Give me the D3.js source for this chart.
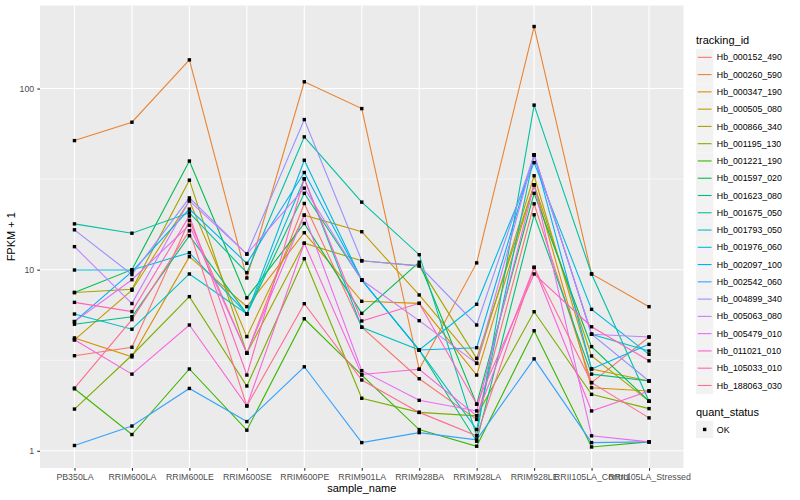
<!DOCTYPE html>
<html>
<head>
<meta charset="utf-8">
<script src="https://cdn.jsdelivr.net/npm/d3@7"></script>
<style>
  body { margin: 0; background: #fff; }
  text { font-family: 'Liberation Sans', Arial, sans-serif; }
</style>
</head>
<body>
<svg id="chart"></svg>
<script>
const samples = ['PB350LA', 'RRIM600LA', 'RRIM600LE', 'RRIM600SE', 'RRIM600PE', 'RRIM901LA',
  'RRIM928BA', 'RRIM928LA', 'RRIM928LE', 'RRII105LA_Control', 'RRII105LA_Stressed'];

const trackingIds = ['Hb_000152_490', 'Hb_000260_590', 'Hb_000347_190', 'Hb_000505_080',
  'Hb_000866_340', 'Hb_001195_130', 'Hb_001221_190', 'Hb_001597_020', 'Hb_001623_080',
  'Hb_001675_050', 'Hb_001793_050', 'Hb_001976_060', 'Hb_002097_100', 'Hb_002542_060',
  'Hb_004899_340', 'Hb_005063_080', 'Hb_005479_010', 'Hb_011021_010', 'Hb_105033_010',
  'Hb_188063_030'];

// FPKM + 1, one value per sample
const hb_000152_490 = [3.35, 3.73, 18.7, 3.46, 23.2, 4.81, 2.5, 1.49, 23.1, 2.38, 4.25];
const hb_000260_590 = [51.6, 65.2, 144, 9.0, 109, 77.5, 2.82, 10.9, 220, 9.47, 6.25];
const hb_000347_190 = [4.2, 3.3, 11.8, 6.25, 16.0, 6.69, 6.52, 2.62, 29.4, 2.23, 2.14];
const hb_000505_080 = [4.1, 7.7, 24.0, 4.27, 20.0, 16.2, 7.25, 3.04, 33.0, 2.83, 2.43];
const hb_000866_340 = [7.48, 7.8, 31.2, 3.46, 14.0, 11.2, 10.5, 3.24, 29.4, 3.34, 1.88];
const hb_001195_130 = [1.7, 3.37, 7.1, 2.28, 11.5, 1.95, 1.63, 1.56, 5.86, 2.05, 1.71];
const hb_001221_190 = [2.2, 1.23, 2.83, 1.3, 5.36, 2.62, 1.31, 1.06, 4.6, 1.05, 1.12];
const hb_001597_020 = [7.48, 10.0, 39.8, 6.99, 18.0, 5.74, 11.0, 1.81, 26.4, 3.76, 1.88];
const hb_001623_080 = [5.0, 5.5, 15.4, 5.7, 26.4, 8.77, 3.6, 1.13, 20.1, 2.65, 2.43];
const hb_001675_050 = [17.9, 15.9, 20.6, 9.63, 54.1, 23.6, 12.1, 1.21, 81.0, 9.47, 1.88];
const hb_001793_050 = [5.69, 4.69, 9.47, 5.7, 31.7, 4.81, 3.6, 1.31, 43.0, 4.4, 3.56];
const hb_001976_060 = [9.96, 9.96, 12.4, 5.7, 40.2, 8.77, 3.6, 6.44, 39.0, 6.04, 3.41];
const hb_002097_100 = [5.17, 9.75, 21.6, 10.84, 34.4, 8.77, 3.6, 3.71, 43.0, 2.83, 3.87];
const hb_002542_060 = [1.07, 1.37, 2.21, 1.45, 2.91, 1.11, 1.26, 1.15, 3.22, 1.11, 1.12];
const hb_004899_340 = [16.6, 9.4, 24.9, 12.2, 67.4, 11.2, 10.5, 4.95, 43.0, 4.4, 2.43];
const hb_005063_080 = [13.4, 6.5, 24.0, 12.2, 28.2, 8.77, 5.23, 3.04, 43.0, 4.4, 4.25];
const hb_005479_010 = [5.17, 8.8, 17.6, 3.46, 20.0, 2.77, 1.9, 1.66, 29.4, 1.21, 1.12];
const hb_011021_010 = [4.1, 2.65, 4.95, 1.77, 14.0, 2.64, 2.82, 1.56, 10.3, 1.66, 2.14];
const hb_105033_010 = [6.6, 5.87, 19.8, 2.62, 31.7, 5.21, 6.52, 1.81, 9.47, 4.84, 3.14];
const hb_188063_030 = [2.22, 5.3, 16.4, 1.77, 6.49, 2.46, 1.63, 1.21, 10.3, 2.38, 1.52];

const yTicks = [1, 10, 100];
const yMinor = [Math.sqrt(10), Math.sqrt(1000)];

const seriesValues = [hb_000152_490, hb_000260_590, hb_000347_190, hb_000505_080, hb_000866_340,
  hb_001195_130, hb_001221_190, hb_001597_020, hb_001623_080, hb_001675_050, hb_001793_050,
  hb_001976_060, hb_002097_100, hb_002542_060, hb_004899_340, hb_005063_080, hb_005479_010,
  hb_011021_010, hb_105033_010, hb_188063_030];

// ggplot default hue palette for 20 groups
const colors = ['#F8766D', '#EA8331', '#D89000', '#C09B00', '#A3A500', '#7CAE00', '#39B600',
  '#00BB4E', '#00BF7D', '#00C1A3', '#00BFC4', '#00BAE0', '#00B0F6', '#35A2FF', '#9590FF',
  '#C77CFF', '#E76BF3', '#FA62DB', '#FF62BC', '#FF6C91'];

const width = 800;
const height = 500;
const panel = { left: 40, right: 683.5, top: 5.5, bottom: 468 };

const series = trackingIds.map((id, i) => ({
  id: id,
  color: colors[i],
  values: seriesValues[i].map((v, j) => ({ sample: samples[j], value: v })),
}));

const svg = d3.select('#chart').attr('width', width).attr('height', height);

let xScale;
let yScale;

const generateScales = () => {
  xScale = d3.scalePoint().domain(samples).range([panel.left, panel.right]).padding(0.6);
  const all = seriesValues.flat();
  const lo = Math.log10(d3.min(all));
  const hi = Math.log10(d3.max(all));
  const pad = (hi - lo) * 0.05;
  yScale = d3.scaleLog()
    .domain([Math.pow(10, lo - pad), Math.pow(10, hi + pad)])
    .range([panel.bottom, panel.top]);
};

const drawPanel = () => {
  svg.append('rect')
    .attr('x', panel.left).attr('y', panel.top)
    .attr('width', panel.right - panel.left).attr('height', panel.bottom - panel.top)
    .attr('fill', '#EBEBEB');

  svg.selectAll('.minor').data(yMinor).enter().append('line')
    .attr('x1', panel.left).attr('x2', panel.right)
    .attr('y1', (d) => yScale(d)).attr('y2', (d) => yScale(d))
    .attr('stroke', '#fff').attr('stroke-width', 0.55);

  svg.selectAll('.hgrid').data(yTicks).enter().append('line')
    .attr('x1', panel.left).attr('x2', panel.right)
    .attr('y1', (d) => yScale(d)).attr('y2', (d) => yScale(d))
    .attr('stroke', '#fff').attr('stroke-width', 1.1);

  svg.selectAll('.vgrid').data(samples).enter().append('line')
    .attr('x1', (d) => xScale(d)).attr('x2', (d) => xScale(d))
    .attr('y1', panel.top).attr('y2', panel.bottom)
    .attr('stroke', '#fff').attr('stroke-width', 1.1);
};

const drawLines = () => {
  const line = d3.line()
    .x((d) => xScale(d.sample))
    .y((d) => yScale(d.value));

  svg.selectAll('.series').data(series).enter().append('path')
    .attr('d', (s) => line(s.values))
    .attr('fill', 'none')
    .attr('stroke', (s) => s.color)
    .attr('stroke-width', 1.1);

  const pts = series.flatMap((s) => s.values);
  svg.selectAll('.pt').data(pts).enter().append('rect')
    .attr('x', (d) => xScale(d.sample) - 1.7)
    .attr('y', (d) => yScale(d.value) - 1.7)
    .attr('width', 3.4).attr('height', 3.4)
    .attr('fill', '#000');
};

const generateAxis = () => {
  const xAxis = d3.axisBottom(xScale).tickSize(2.75).tickPadding(3);
  const yAxis = d3.axisLeft(yScale).tickValues(yTicks).tickFormat(d3.format('d')).tickSize(2.75).tickPadding(3);

  const gx = svg.append('g')
    .attr('transform', 'translate(0,' + panel.bottom + ')')
    .call(xAxis);
  const gy = svg.append('g')
    .attr('transform', 'translate(' + panel.left + ',0)')
    .call(yAxis);

  [gx, gy].forEach((g) => {
    g.select('.domain').remove();
    g.selectAll('.tick line').attr('stroke', '#333333').attr('stroke-width', 1.1);
    g.selectAll('.tick text').attr('fill', '#4D4D4D').style('font-size', '8.8px');
  });

  svg.append('text')
    .attr('x', (panel.left + panel.right) / 2).attr('y', 492)
    .attr('text-anchor', 'middle').style('font-size', '11px')
    .text('sample_name');

  svg.append('text')
    .attr('transform', 'rotate(-90)')
    .attr('x', -(panel.top + panel.bottom) / 2).attr('y', 15)
    .attr('text-anchor', 'middle').style('font-size', '11px')
    .text('FPKM + 1');
};

const drawLegend = () => {
  const lx = 696;
  const keyW = 17.3;
  const step = 17.27;
  const top = 48.7;

  svg.append('text').attr('x', lx).attr('y', 44).style('font-size', '11px').text('tracking_id');

  const items = svg.selectAll('.key').data(series).enter().append('g')
    .attr('transform', (d, i) => 'translate(' + lx + ',' + (top + i * step) + ')');
  items.append('rect').attr('width', keyW).attr('height', step).attr('fill', '#F2F2F2');
  items.append('line')
    .attr('x1', 1.7).attr('x2', keyW - 1.7)
    .attr('y1', step / 2).attr('y2', step / 2)
    .attr('stroke', (d) => d.color).attr('stroke-width', 1.1);
  items.append('text')
    .attr('x', keyW + 3.5).attr('y', step / 2 + 3.1)
    .style('font-size', '8.8px')
    .text((d) => d.id);

  svg.append('text').attr('x', lx).attr('y', 416).style('font-size', '11px').text('quant_status');
  const ok = svg.append('g').attr('transform', 'translate(' + lx + ',' + 420.8 + ')');
  ok.append('rect').attr('width', keyW).attr('height', step).attr('fill', '#F2F2F2');
  ok.append('rect').attr('x', keyW / 2 - 1.7).attr('y', step / 2 - 1.7).attr('width', 3.4).attr('height', 3.4).attr('fill', '#000');
  ok.append('text').attr('x', keyW + 3.5).attr('y', step / 2 + 3.1).style('font-size', '8.8px').text('OK');
};

generateScales();
drawPanel();
drawLines();
generateAxis();
drawLegend();
</script>
</body>
</html>
